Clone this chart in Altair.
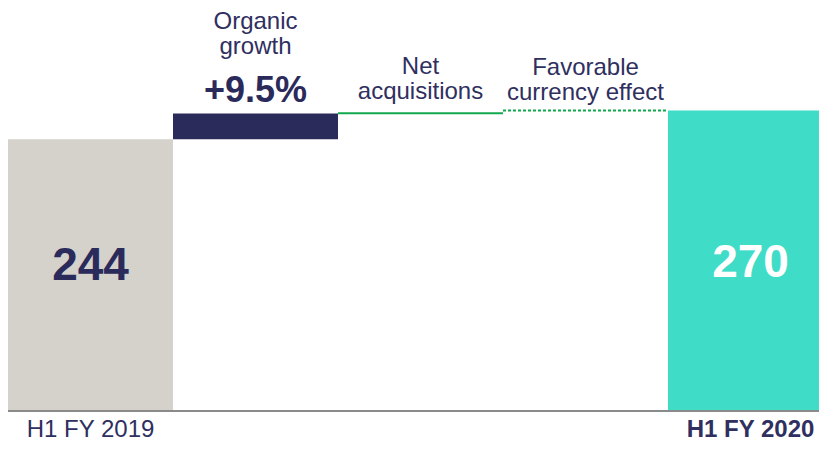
import altair as alt
import pandas as pd

# ---- data ----
steps = ["H1 FY 2019", "Organic growth", "Net acquisitions", "Favorable currency effect", "H1 FY 2020"]
amounts = [244, 23.2, 0.3, 2.5, 270]          # totals for first/last, changes in between
kinds = ["total", "delta", "delta", "delta", "total"]
top_labels = ["", "Organic\ngrowth", "Net\nacquisitions", "Favorable\ncurrency effect", ""]
pct_labels = ["", "+9.5%", "", "", ""]
value_labels = ["244", "", "", "", "270"]
bar_colors = ["#d5d1cb", "#2b2b5b", "#12a84e", "#12a84e", "#3fdcc8"]

FONT = "Liberation Sans"
NAVY = "#2b2b5b"
TEXT = "#2f2f60"
GREEN = "#12a84e"

W, H = 811, 435
XMAX = W / 165.0            # last band runs past the right edge, as in the reference

# ---- build waterfall table ----
rows = []
running = 0.0
for i, (s, a, k) in enumerate(zip(steps, amounts, kinds)):
    if k == "total":
        y0, y1 = 0.0, float(a)
        running = float(a)
    else:
        y0, y1 = running, running + a
        running = y1
    rows.append(dict(step=s, idx=i, x0=i, x1=i + 1, xm=i + 0.5, xend=XMAX, zero=0.0,
                     y0=y0, y1=y1, mid=(y0 + y1) / 2, top=top_labels[i],
                     pct=pct_labels[i], val=value_labels[i]))
df = pd.DataFrame(rows)

xscale = alt.Scale(domain=[0, XMAX], nice=False, zero=False)
yscale = alt.Scale(domain=[-28.74, 362], nice=False, zero=False)

base = alt.Chart(df)


def X(field):
    return alt.X(field, scale=xscale, axis=None)


def Y(field):
    return alt.Y(field, scale=yscale, axis=None)


bars = base.transform_filter("datum.idx == 0 || datum.idx == 1 || datum.idx == 4").mark_bar(clip=True).encode(
    x=X("x0:Q"), x2="x1:Q", y=Y("y0:Q"), y2="y1:Q",
    color=alt.Color("step:N", scale=alt.Scale(domain=steps, range=bar_colors), legend=None),
)

acq = base.transform_filter("datum.idx == 2").mark_rule(color=GREEN, strokeWidth=2).encode(
    x=X("x0:Q"), x2="x1:Q", y=Y("y1:Q"),
)

fx = base.transform_filter("datum.idx == 3").mark_rule(color=GREEN, strokeWidth=2, strokeDash=[3, 2]).encode(
    x=X("x0:Q"), x2="x1:Q", y=Y("y1:Q"),
)

baseline = base.transform_filter("datum.idx == 0").mark_rule(color="#8a8a8a", strokeWidth=2).encode(
    x=X("x0:Q"), x2="xend:Q", y=Y("zero:Q"),
)

lbl_kw = dict(font=FONT, fontSize=24, color=TEXT, baseline="alphabetic", lineBreak="\n", lineHeight=25)

org_label = base.transform_filter("datum.idx == 1").mark_text(dy=-85, **lbl_kw).encode(
    x=X("xm:Q"), y=Y("y1:Q"), text="top:N")
acq_label = base.transform_filter("datum.idx == 2").mark_text(dy=-39, **lbl_kw).encode(
    x=X("xm:Q"), y=Y("y1:Q"), text="top:N")
fx_label = base.transform_filter("datum.idx == 3").mark_text(dy=-35, **lbl_kw).encode(
    x=X("xm:Q"), y=Y("y1:Q"), text="top:N")

pct = base.transform_filter("datum.idx == 1").mark_text(
    font=FONT, fontSize=36, fontWeight="bold", color=NAVY, baseline="alphabetic", dy=-12
).encode(x=X("xm:Q"), y=Y("y1:Q"), text="pct:N")

v_start = base.transform_filter("datum.idx == 0").mark_text(
    font=FONT, fontSize=46, fontWeight="bold", color=NAVY, baseline="middle", dy=-9
).encode(x=X("xm:Q"), y=Y("mid:Q"), text="val:N")

v_end = base.transform_filter("datum.idx == 4").mark_text(
    font=FONT, fontSize=46, fontWeight="bold", color="white", baseline="middle", dy=2
).encode(x=X("xm:Q"), y=Y("mid:Q"), text="val:N")

cat_start = base.transform_filter("datum.idx == 0").mark_text(
    font=FONT, fontSize=24, color=TEXT, baseline="alphabetic", dy=26
).encode(x=X("xm:Q"), y=Y("y0:Q"), text="step:N")

cat_end = base.transform_filter("datum.idx == 4").mark_text(
    font=FONT, fontSize=24, fontWeight="bold", color=TEXT, baseline="alphabetic", dy=26
).encode(x=X("xm:Q"), y=Y("y0:Q"), text="step:N")

chart = alt.layer(
    bars, acq, fx, baseline, org_label, acq_label, fx_label, pct, v_start, v_end, cat_start, cat_end
).properties(
    width=W, height=H, padding=0, background="white",
    autosize=alt.AutoSizeParams(type="none"),
).configure_view(stroke=None)

chart.save("out.html", embed_options={"renderer": "svg", "actions": False})
